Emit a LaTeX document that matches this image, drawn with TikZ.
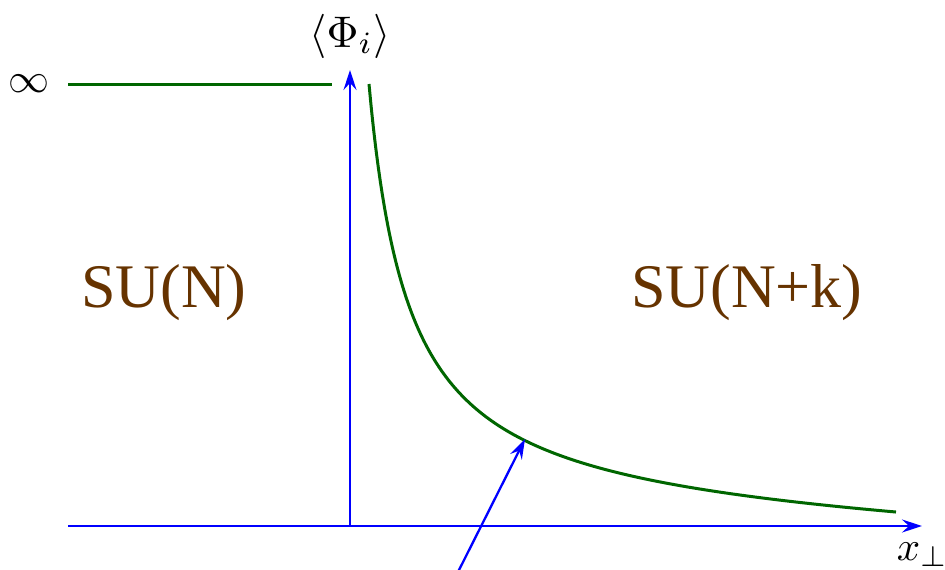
\documentclass[tikz,border=0pt]{standalone}
\usepackage{fontspec}
\newfontfamily\timesfont{Liberation Serif}
\usetikzlibrary{arrows.meta}
\definecolor{cbrown}{HTML}{663300}
\definecolor{cgreen}{HTML}{006600}
\definecolor{cblue}{HTML}{0000FF}
\tikzset{
  axis/.style={draw=cblue, line width=2.3pt, -{Stealth[length=20pt,width=13pt,inset=7pt]}},
  field/.style={draw=cgreen, line width=3pt},
  grouplabel/.style={text=cbrown, inner sep=0pt, font=\timesfont\fontsize{62}{70}\selectfont},
  mathlabel/.style={inner sep=0pt, scale=4.1}
}
\begin{document}
\begin{tikzpicture}[x=1pt,y=-1pt]
\useasboundingbox (0,0) rectangle (945,570);
\coordinate (o) at (350,526);
\coordinate (xend) at (922,526);
\coordinate (xstart) at (68,526);
\coordinate (ytop) at (350,70);
\coordinate (inf1) at (68,84);
\coordinate (inf2) at (332,84);
\coordinate (pstart) at (458,572);
\coordinate (ptip) at (525,439);
\node[mathlabel, scale=1.08, anchor=base] (phi) at (350,47) {$\langle\Phi_i\rangle$};
\node[mathlabel] (infty) at (29,84) {$\infty$};
\node[mathlabel, anchor=base west] (xperp) at (896,560) {$x_\perp$};
\node[grouplabel, anchor=base west] (sun) at (81,307) {SU(N)};
\node[grouplabel, anchor=base west] (sunk) at (631,307) {SU(N+k)};
\draw[axis] (xstart) -- (xend);
\draw[axis] (o) -- (ytop);
\draw[field] (inf1) -- (inf2);
\draw[field] plot[domain=369:896, samples=240, smooth] (\x, {526 - 1776.8/((\x-328.8)/10) + 0.0329*(\x-369)});
\draw[axis] (pstart) -- (ptip);
\end{tikzpicture}
\end{document}
